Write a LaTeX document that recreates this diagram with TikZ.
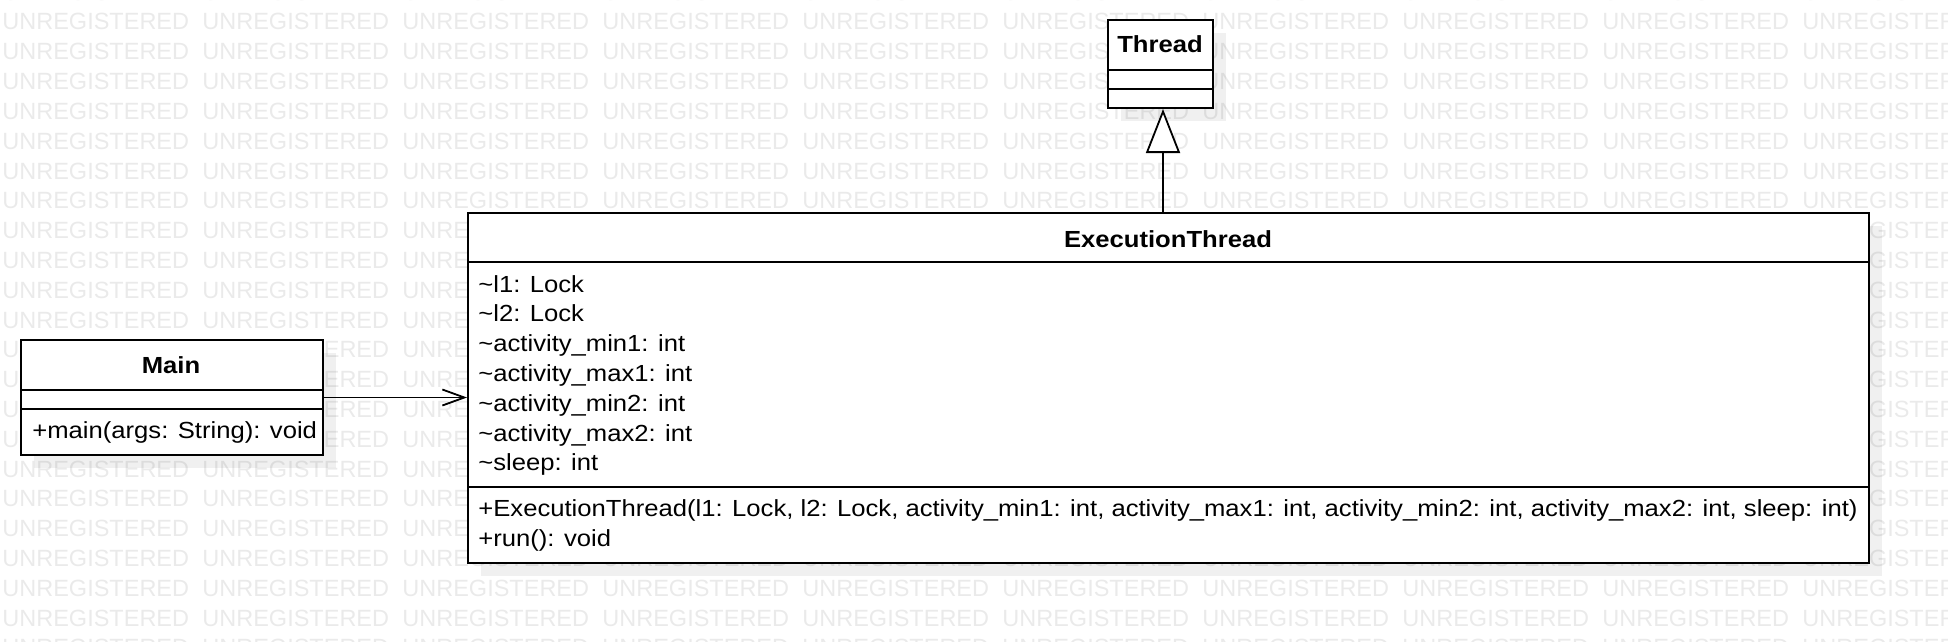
\documentclass[tikz,border=0pt]{standalone}
\usepackage{fontspec}
\setmainfont{Liberation Sans}[FakeStretch=1.1]
\newfontfamily\wmfont{Liberation Sans}
\usetikzlibrary{arrows.meta,positioning,calc,shadows}

\definecolor{wmgray}{HTML}{EAEAEA}

\tikzset{
  classbox/.style={draw, fill=white, line width=1pt, inner sep=0pt, anchor=north west,
    drop shadow={shadow xshift=6.5pt, shadow yshift=-6.5pt, fill=black, opacity=0.06}},
  sepline/.style={line width=1pt},
  classname/.style={anchor=base, inner sep=0pt, font=\fontsize{11.65}{14}\selectfont\bfseries},
  member/.style={anchor=base west, inner sep=0pt, font=\fontsize{11.65}{14}\selectfont},
  wmtext/.style={anchor=base west, inner sep=0pt, text=wmgray, font=\wmfont\fontsize{11.75}{14}\selectfont},
  assoc/.style={-{Straight Barb[length=11pt,width=8pt]}, line width=0.9pt},
  inherit/.style={-{Triangle[open,length=22pt,width=17pt,fill=white]}, line width=0.9pt}
}

\begin{document}
\begin{tikzpicture}[x=0.5pt, y=-0.5pt]
  \useasboundingbox (0,0) rectangle (1948,642);

  % Watermark
  \begin{scope}
    \clip (0,0) rectangle (1948,642);
    \foreach \r in {-1,...,21}
      \foreach \c in {0,...,9}
        \node[wmtext] at (2+200*\c, 30+29.8*\r) {UNREGISTERED};
  \end{scope}

  % Thread
  \node[classbox, minimum width=52.5pt, minimum height=44pt] (thread) at (1107,19) {};
  \draw[sepline] (thread.west |- 0,70) -- (thread.east |- 0,70);
  \draw[sepline] (thread.west |- 0,89) -- (thread.east |- 0,89);
  \node[classname] (threadname) at (1160,53) {Thread};

  % ExecutionThread
  \node[classbox, minimum width=700.5pt, minimum height=175pt] (exec) at (467,212) {};
  \draw[sepline] (exec.west |- 0,262) -- (exec.east |- 0,262);
  \draw[sepline] (exec.west |- 0,487) -- (exec.east |- 0,487);
  \node[classname] (execname) at (1168,247) {ExecutionThread};
  \foreach \attr [count=\i from 0] in {%
      {\textasciitilde l1: Lock},
      {\textasciitilde l2: Lock},
      {\textasciitilde activity\_min1: int},
      {\textasciitilde activity\_max1: int},
      {\textasciitilde activity\_min2: int},
      {\textasciitilde activity\_max2: int},
      {\textasciitilde sleep: int}}
    \node[member] (attr\i) at (478, 292+29.8*\i) {\attr};
  \node[member] (ctor) at (478,516) {+ExecutionThread(l1: Lock, l2: Lock, activity\_min1: int, activity\_max1: int, activity\_min2: int, activity\_max2: int, sleep: int)};
  \node[member] (run) at (478,546) {+run(): void};

  % Main
  \node[classbox, minimum width=151pt, minimum height=57.5pt] (main) at (20,339) {};
  \draw[sepline] (main.west |- 0,390) -- (main.east |- 0,390);
  \draw[sepline] (main.west |- 0,409) -- (main.east |- 0,409);
  \node[classname] (mainname) at (171,373) {Main};
  \node[member] (mainop) at (32,438) {+main(args: String): void};

  % Connectors
  \coordinate (genx) at (1163,0);
  \draw[inherit] (exec.north -| genx) -- (thread.south -| genx);
  \draw[assoc] (main.east) -- (main.east -| exec.west);
\end{tikzpicture}
\end{document}
